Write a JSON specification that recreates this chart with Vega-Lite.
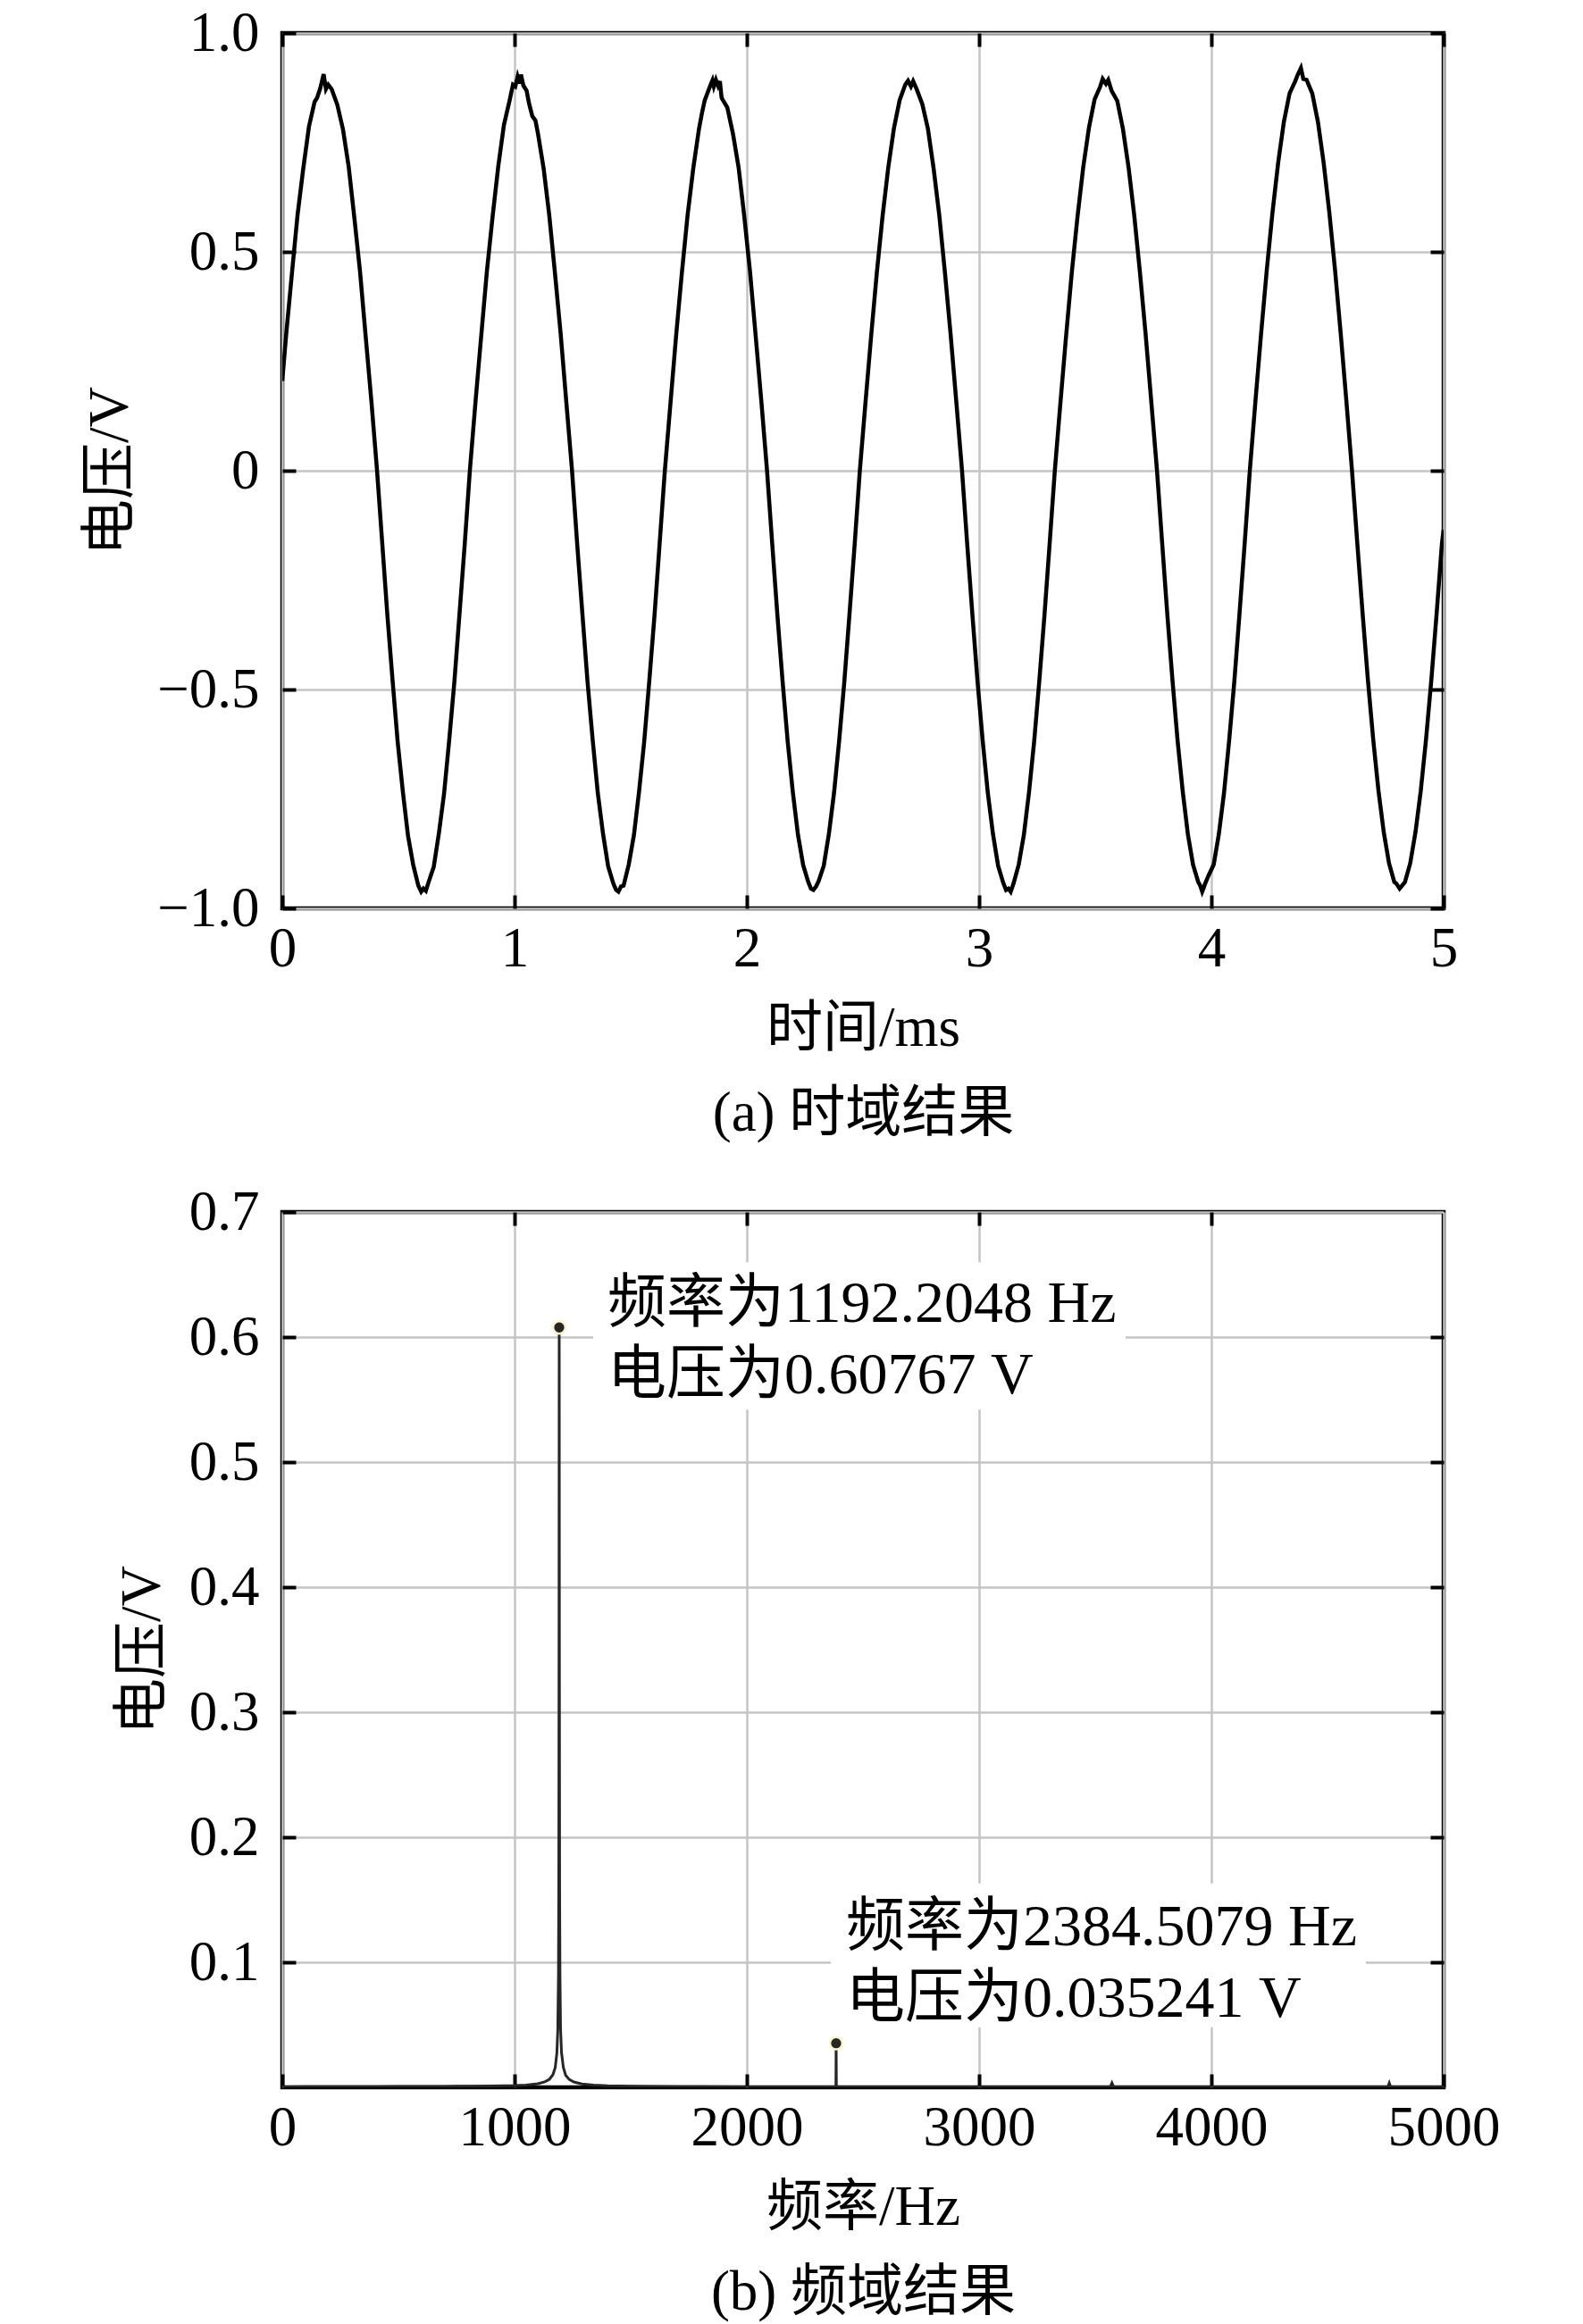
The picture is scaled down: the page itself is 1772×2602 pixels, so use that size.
{
  "$schema": "https://vega.github.io/schema/vega-lite/v6.json",
  "background": "white",
  "padding": {"left": 90, "top": 3, "right": 20, "bottom": 0},
  "bounds": "flush",
  "spacing": 340,
  "config": {
    "view": {"stroke": "black", "strokeWidth": 4.5},
    "font": "Liberation Serif, Noto Sans CJK SC",
    "axis": {
      "labelFont": "Liberation Serif, Noto Sans CJK SC",
      "labelFontSize": 63,
      "labelColor": "black",
      "labelPadding": 41,
      "labelFlush": false,
      "labelOverlap": false,
      "titleFont": "Liberation Serif, Noto Sans CJK SC",
      "titleFontSize": 63,
      "titleFontWeight": "normal",
      "titleColor": "black",
      "tickSize": -15,
      "tickWidth": 4,
      "tickColor": "black",
      "domain": false,
      "gridColor": "#c4c4c4",
      "gridWidth": 2.5,
      "gridOpacity": 1
    },
    "axisX": {"labelPadding": 29}
  },
  "datasets": {
    "wave": [
      {"t": 0, "v": 0.205}, {"t": 0.0169, "v": 0.312}, {"t": 0.0413, "v": 0.45}, {"t": 0.0658, "v": 0.585},
      {"t": 0.0902, "v": 0.69}, {"t": 0.1147, "v": 0.786}, {"t": 0.1391, "v": 0.843}, {"t": 0.15, "v": 0.852},
      {"t": 0.1636, "v": 0.874}, {"t": 0.178, "v": 0.906}, {"t": 0.188, "v": 0.872}, {"t": 0.198, "v": 0.882},
      {"t": 0.2124, "v": 0.872}, {"t": 0.2369, "v": 0.836}, {"t": 0.2613, "v": 0.78}, {"t": 0.2858, "v": 0.695},
      {"t": 0.3102, "v": 0.578}, {"t": 0.3347, "v": 0.455}, {"t": 0.3591, "v": 0.306}, {"t": 0.3836, "v": 0.159},
      {"t": 0.408, "v": 0.0},
      {"t": 0.4302, "v": -0.165}, {"t": 0.4524, "v": -0.33}, {"t": 0.4746, "v": -0.478}, {"t": 0.4968, "v": -0.62},
      {"t": 0.519, "v": -0.733}, {"t": 0.5412, "v": -0.834}, {"t": 0.5634, "v": -0.9}, {"t": 0.5856, "v": -0.948},
      {"t": 0.598, "v": -0.962}, {"t": 0.6077, "v": -0.955}, {"t": 0.618, "v": -0.96}, {"t": 0.6299, "v": -0.94},
      {"t": 0.6521, "v": -0.905}, {"t": 0.6743, "v": -0.828}, {"t": 0.6965, "v": -0.738}, {"t": 0.7187, "v": -0.615},
      {"t": 0.7409, "v": -0.482}, {"t": 0.7631, "v": -0.326}, {"t": 0.7853, "v": -0.169}, {"t": 0.8075, "v": 0.0},
      {"t": 0.8319, "v": 0.158}, {"t": 0.8564, "v": 0.308}, {"t": 0.8808, "v": 0.455}, {"t": 0.9053, "v": 0.58},
      {"t": 0.9297, "v": 0.695}, {"t": 0.9542, "v": 0.79}, {"t": 0.9786, "v": 0.846}, {"t": 0.993, "v": 0.882},
      {"t": 1.0031, "v": 0.878}, {"t": 1.013, "v": 0.9}, {"t": 1.021, "v": 0.885}, {"t": 1.0275, "v": 0.905},
      {"t": 1.038, "v": 0.88}, {"t": 1.0519, "v": 0.868}, {"t": 1.062, "v": 0.84}, {"t": 1.0764, "v": 0.81},
      {"t": 1.09, "v": 0.8}, {"t": 1.1008, "v": 0.77}, {"t": 1.1253, "v": 0.69}, {"t": 1.1497, "v": 0.582},
      {"t": 1.1742, "v": 0.45}, {"t": 1.1986, "v": 0.312}, {"t": 1.2231, "v": 0.155}, {"t": 1.2475, "v": 0.0},
      {"t": 1.2697, "v": -0.168}, {"t": 1.2919, "v": -0.326}, {"t": 1.3141, "v": -0.482}, {"t": 1.3363, "v": -0.615},
      {"t": 1.3585, "v": -0.737}, {"t": 1.3807, "v": -0.829}, {"t": 1.4029, "v": -0.904}, {"t": 1.4251, "v": -0.943},
      {"t": 1.437, "v": -0.958}, {"t": 1.4472, "v": -0.962}, {"t": 1.458, "v": -0.95}, {"t": 1.4694, "v": -0.948},
      {"t": 1.4916, "v": -0.9}, {"t": 1.5138, "v": -0.833}, {"t": 1.536, "v": -0.733}, {"t": 1.5582, "v": -0.619},
      {"t": 1.5804, "v": -0.478}, {"t": 1.6026, "v": -0.33}, {"t": 1.6248, "v": -0.165}, {"t": 1.647, "v": 0.0},
      {"t": 1.6714, "v": 0.155}, {"t": 1.6959, "v": 0.311}, {"t": 1.7203, "v": 0.452}, {"t": 1.7448, "v": 0.583},
      {"t": 1.7692, "v": 0.69}, {"t": 1.7937, "v": 0.78}, {"t": 1.806, "v": 0.815}, {"t": 1.8181, "v": 0.845},
      {"t": 1.8426, "v": 0.88}, {"t": 1.852, "v": 0.892}, {"t": 1.858, "v": 0.878}, {"t": 1.867, "v": 0.893},
      {"t": 1.876, "v": 0.88}, {"t": 1.884, "v": 0.89}, {"t": 1.8914, "v": 0.852}, {"t": 1.9159, "v": 0.83},
      {"t": 1.9403, "v": 0.77}, {"t": 1.9648, "v": 0.692}, {"t": 1.9892, "v": 0.58}, {"t": 2.0137, "v": 0.455},
      {"t": 2.0381, "v": 0.308}, {"t": 2.0626, "v": 0.158}, {"t": 2.087, "v": 0.0},
      {"t": 2.1092, "v": -0.166}, {"t": 2.1314, "v": -0.329}, {"t": 2.1536, "v": -0.479}, {"t": 2.1758, "v": -0.618},
      {"t": 2.198, "v": -0.734}, {"t": 2.2202, "v": -0.832}, {"t": 2.2424, "v": -0.901}, {"t": 2.2646, "v": -0.94},
      {"t": 2.276, "v": -0.955}, {"t": 2.2867, "v": -0.958}, {"t": 2.298, "v": -0.95}, {"t": 2.3089, "v": -0.938},
      {"t": 2.3311, "v": -0.903}, {"t": 2.3533, "v": -0.83}, {"t": 2.3755, "v": -0.736}, {"t": 2.3977, "v": -0.616},
      {"t": 2.4199, "v": -0.481}, {"t": 2.4421, "v": -0.327}, {"t": 2.4643, "v": -0.168}, {"t": 2.4865, "v": 0.0},
      {"t": 2.5109, "v": 0.156}, {"t": 2.5354, "v": 0.309}, {"t": 2.5598, "v": 0.453}, {"t": 2.5843, "v": 0.581},
      {"t": 2.6087, "v": 0.692}, {"t": 2.6332, "v": 0.782}, {"t": 2.6576, "v": 0.846}, {"t": 2.6821, "v": 0.882},
      {"t": 2.694, "v": 0.891}, {"t": 2.7065, "v": 0.878}, {"t": 2.716, "v": 0.89}, {"t": 2.7309, "v": 0.872},
      {"t": 2.7554, "v": 0.838}, {"t": 2.7798, "v": 0.781}, {"t": 2.8043, "v": 0.69}, {"t": 2.8287, "v": 0.583},
      {"t": 2.8532, "v": 0.451}, {"t": 2.8776, "v": 0.31}, {"t": 2.9021, "v": 0.156}, {"t": 2.9265, "v": 0.0},
      {"t": 2.9487, "v": -0.167}, {"t": 2.9709, "v": -0.327}, {"t": 2.9931, "v": -0.481}, {"t": 3.0153, "v": -0.616},
      {"t": 3.0375, "v": -0.736}, {"t": 3.0597, "v": -0.83}, {"t": 3.0819, "v": -0.903}, {"t": 3.1041, "v": -0.942},
      {"t": 3.116, "v": -0.958}, {"t": 3.1262, "v": -0.955}, {"t": 3.136, "v": -0.962}, {"t": 3.1484, "v": -0.943},
      {"t": 3.1706, "v": -0.9}, {"t": 3.1928, "v": -0.832}, {"t": 3.215, "v": -0.734}, {"t": 3.2372, "v": -0.618},
      {"t": 3.2594, "v": -0.479}, {"t": 3.2816, "v": -0.329}, {"t": 3.3038, "v": -0.166}, {"t": 3.326, "v": 0.0},
      {"t": 3.3504, "v": 0.157}, {"t": 3.3749, "v": 0.31}, {"t": 3.3993, "v": 0.454}, {"t": 3.4238, "v": 0.581},
      {"t": 3.4482, "v": 0.693}, {"t": 3.4727, "v": 0.783}, {"t": 3.4971, "v": 0.848}, {"t": 3.5216, "v": 0.878},
      {"t": 3.532, "v": 0.895}, {"t": 3.546, "v": 0.884}, {"t": 3.556, "v": 0.893}, {"t": 3.5704, "v": 0.868},
      {"t": 3.5949, "v": 0.845}, {"t": 3.6193, "v": 0.781}, {"t": 3.6438, "v": 0.692}, {"t": 3.6682, "v": 0.582},
      {"t": 3.6927, "v": 0.452}, {"t": 3.7171, "v": 0.311}, {"t": 3.7416, "v": 0.156}, {"t": 3.766, "v": 0.0},
      {"t": 3.7882, "v": -0.166}, {"t": 3.8104, "v": -0.329}, {"t": 3.8326, "v": -0.479}, {"t": 3.8548, "v": -0.618},
      {"t": 3.877, "v": -0.734}, {"t": 3.8992, "v": -0.832}, {"t": 3.9214, "v": -0.901}, {"t": 3.9436, "v": -0.94},
      {"t": 3.952, "v": -0.948}, {"t": 3.9605, "v": -0.962}, {"t": 3.9657, "v": -0.955}, {"t": 3.972, "v": -0.945},
      {"t": 3.9879, "v": -0.925}, {"t": 4.0101, "v": -0.9}, {"t": 4.0323, "v": -0.83}, {"t": 4.0545, "v": -0.736},
      {"t": 4.0767, "v": -0.616}, {"t": 4.0989, "v": -0.481}, {"t": 4.1211, "v": -0.327}, {"t": 4.1433, "v": -0.167},
      {"t": 4.1655, "v": 0.0},
      {"t": 4.1899, "v": 0.16}, {"t": 4.2144, "v": 0.315}, {"t": 4.2388, "v": 0.46}, {"t": 4.2633, "v": 0.591},
      {"t": 4.2877, "v": 0.704}, {"t": 4.3122, "v": 0.797}, {"t": 4.3366, "v": 0.862}, {"t": 4.3611, "v": 0.89},
      {"t": 4.372, "v": 0.905}, {"t": 4.3855, "v": 0.92}, {"t": 4.396, "v": 0.895}, {"t": 4.4099, "v": 0.893},
      {"t": 4.4344, "v": 0.862}, {"t": 4.4588, "v": 0.797}, {"t": 4.4833, "v": 0.704}, {"t": 4.5077, "v": 0.591},
      {"t": 4.5322, "v": 0.46}, {"t": 4.5566, "v": 0.315}, {"t": 4.5811, "v": 0.16}, {"t": 4.6055, "v": 0.0},
      {"t": 4.6283, "v": -0.166}, {"t": 4.6511, "v": -0.326}, {"t": 4.6738, "v": -0.477}, {"t": 4.6966, "v": -0.613},
      {"t": 4.7194, "v": -0.731}, {"t": 4.7422, "v": -0.826}, {"t": 4.7649, "v": -0.897}, {"t": 4.7877, "v": -0.94},
      {"t": 4.796, "v": -0.943}, {"t": 4.8105, "v": -0.955}, {"t": 4.8333, "v": -0.94}, {"t": 4.8561, "v": -0.897},
      {"t": 4.8788, "v": -0.826}, {"t": 4.9016, "v": -0.731}, {"t": 4.9244, "v": -0.613}, {"t": 4.9472, "v": -0.477},
      {"t": 4.9699, "v": -0.326}, {"t": 4.9927, "v": -0.166}, {"t": 5.0, "v": -0.135}
    ],
    "spectrum": [
      {"f": 0, "v": 0.0004}, {"f": 100, "v": 0.0005}, {"f": 200, "v": 0.0005}, {"f": 300, "v": 0.0006},
      {"f": 400, "v": 0.0006}, {"f": 500, "v": 0.0007}, {"f": 600, "v": 0.0007}, {"f": 700, "v": 0.0008},
      {"f": 800, "v": 0.0009}, {"f": 900, "v": 0.0011}, {"f": 1000, "v": 0.0014}, {"f": 1050, "v": 0.0018},
      {"f": 1100, "v": 0.0029}, {"f": 1130, "v": 0.0044}, {"f": 1150, "v": 0.0064}, {"f": 1165, "v": 0.01},
      {"f": 1175, "v": 0.0158}, {"f": 1182, "v": 0.027}, {"f": 1186, "v": 0.045}, {"f": 1189, "v": 0.09},
      {"f": 1190.5, "v": 0.17}, {"f": 1191.5, "v": 0.36}, {"f": 1192.2048, "v": 0.60767}, {"f": 1193, "v": 0.34},
      {"f": 1194, "v": 0.16}, {"f": 1195.5, "v": 0.09}, {"f": 1198, "v": 0.047}, {"f": 1202, "v": 0.028},
      {"f": 1210, "v": 0.016}, {"f": 1220, "v": 0.0097}, {"f": 1235, "v": 0.0063}, {"f": 1255, "v": 0.0043},
      {"f": 1290, "v": 0.0027}, {"f": 1340, "v": 0.0018}, {"f": 1400, "v": 0.0013}, {"f": 1500, "v": 0.0009},
      {"f": 1600, "v": 0.0007}, {"f": 1800, "v": 0.0005}, {"f": 2000, "v": 0.0004}, {"f": 2200, "v": 0.0004},
      {"f": 2380, "v": 0.0005}, {"f": 2383.5, "v": 0.0015}, {"f": 2384.5079, "v": 0.035241}, {"f": 2385.5, "v": 0.0015},
      {"f": 2390, "v": 0.0005}, {"f": 2600, "v": 0.0004}, {"f": 2800, "v": 0.0003}, {"f": 3000, "v": 0.0003},
      {"f": 3300, "v": 0.0003}, {"f": 3565, "v": 0.0004}, {"f": 3572, "v": 0.0035}, {"f": 3579, "v": 0.0004},
      {"f": 3800, "v": 0.0003}, {"f": 4000, "v": 0.0003}, {"f": 4300, "v": 0.0003}, {"f": 4600, "v": 0.0003},
      {"f": 4760, "v": 0.0004}, {"f": 4766, "v": 0.0035}, {"f": 4772, "v": 0.0004}, {"f": 5000, "v": 0.0003}
    ],
    "peaks": [
      {"id": 1, "f": 1192.2048, "v": 0.60767, "label": "频率为1192.2048 Hz\n电压为0.60767 V"},
      {"id": 2, "f": 2384.5079, "v": 0.035241, "label": "频率为2384.5079 Hz\n电压为0.035241 V"}
    ]
  },
  "vconcat": [
    {
      "width": 1300,
      "height": 980,
      "data": {"name": "wave"},
      "resolve": {"axis": {"x": "independent", "y": "independent"}},
      "layer": [
        {
          "mark": {"type": "line", "color": "black", "strokeWidth": 4.5, "clip": true},
          "encoding": {
            "x": {
              "field": "t", "type": "quantitative",
              "scale": {"domain": [0, 5], "nice": false, "zero": false},
              "axis": {"title": ["时间/ms", "(a) 时域结果"], "values": [0, 1, 2, 3, 4, 5], "format": "d",
                       "titlePadding": 26, "titleLineHeight": 95}
            },
            "y": {
              "field": "v", "type": "quantitative",
              "scale": {"domain": [-1, 1], "nice": false},
              "axis": {"title": "电压/V", "values": [-1, -0.5, 0, 0.5, 1],
                       "labelExpr": "datum.value == 0 ? '0' : format(datum.value, '.1f')", "titlePadding": 20}
            }
          }
        },
        {
          "mark": {"type": "point", "opacity": 0},
          "encoding": {
            "x": {"field": "t", "type": "quantitative",
                  "axis": {"orient": "top", "labels": false, "grid": false, "title": null, "values": [0, 1, 2, 3, 4, 5]}},
            "y": {"field": "v", "type": "quantitative",
                  "axis": {"orient": "right", "labels": false, "grid": false, "title": null, "values": [-1, -0.5, 0, 0.5, 1]}}
          }
        }
      ]
    },
    {
      "width": 1300,
      "height": 980,
      "resolve": {"axis": {"x": "independent", "y": "independent"}},
      "layer": [
        {
          "data": {"name": "spectrum"},
          "mark": {"type": "line", "color": "#262626", "strokeWidth": 3, "clip": true},
          "encoding": {
            "x": {
              "field": "f", "type": "quantitative",
              "scale": {"domain": [0, 5000], "nice": false},
              "axis": {"title": ["频率/Hz", "(b) 频域结果"], "values": [0, 1000, 2000, 3000, 4000, 5000], "format": "d",
                       "titlePadding": 26, "titleLineHeight": 95}
            },
            "y": {
              "field": "v", "type": "quantitative",
              "scale": {"domain": [0, 0.7], "nice": false},
              "axis": {"title": "电压/V", "values": [0.1, 0.2, 0.3, 0.4, 0.5, 0.6, 0.7], "format": ".1f", "titlePadding": 20}
            }
          }
        },
        {
          "data": {"name": "spectrum"},
          "mark": {"type": "point", "opacity": 0},
          "encoding": {
            "x": {"field": "f", "type": "quantitative",
                  "axis": {"orient": "top", "labels": false, "grid": false, "title": null, "values": [1000, 2000, 3000, 4000]}},
            "y": {"field": "v", "type": "quantitative",
                  "axis": {"orient": "right", "labels": false, "grid": false, "title": null, "values": [0.1, 0.2, 0.3, 0.4, 0.5, 0.6]}}
          }
        },
        {
          "data": {"name": "peaks"},
          "transform": [{"filter": "datum.id == 1"}],
          "mark": {"type": "rect", "color": "white", "xOffset": 38, "x2Offset": 634, "yOffset": -73, "y2Offset": 92},
          "encoding": {
            "x": {"field": "f", "type": "quantitative", "axis": null}, "x2": {"field": "f"},
            "y": {"field": "v", "type": "quantitative", "axis": null}, "y2": {"field": "v"}
          }
        },
        {
          "data": {"name": "peaks"},
          "transform": [{"filter": "datum.id == 2"}],
          "mark": {"type": "rect", "color": "white", "xOffset": -6, "x2Offset": 593, "yOffset": -179, "y2Offset": -18},
          "encoding": {
            "x": {"field": "f", "type": "quantitative", "axis": null}, "x2": {"field": "f"},
            "y": {"field": "v", "type": "quantitative", "axis": null}, "y2": {"field": "v"}
          }
        },
        {
          "data": {"name": "peaks"},
          "mark": {"type": "point", "filled": true, "size": 190, "color": "#262626", "stroke": "#fbf6c4", "strokeWidth": 2.5, "opacity": 1},
          "encoding": {
            "x": {"field": "f", "type": "quantitative", "axis": null},
            "y": {"field": "v", "type": "quantitative", "axis": null}
          }
        },
        {
          "data": {"name": "peaks"},
          "transform": [{"filter": "datum.id == 1"}],
          "mark": {"type": "text", "align": "left", "baseline": "middle", "dx": 54, "dy": -26, "fontSize": 66,
                   "lineBreak": "\n", "lineHeight": 80, "color": "black", "font": "Liberation Serif, Noto Sans CJK SC"},
          "encoding": {
            "x": {"field": "f", "type": "quantitative", "axis": null},
            "y": {"field": "v", "type": "quantitative", "axis": null},
            "text": {"field": "label"}
          }
        },
        {
          "data": {"name": "peaks"},
          "transform": [{"filter": "datum.id == 2"}],
          "mark": {"type": "text", "align": "left", "baseline": "middle", "dx": 11, "dy": -130, "fontSize": 66,
                   "lineBreak": "\n", "lineHeight": 80, "color": "black", "font": "Liberation Serif, Noto Sans CJK SC"},
          "encoding": {
            "x": {"field": "f", "type": "quantitative", "axis": null},
            "y": {"field": "v", "type": "quantitative", "axis": null},
            "text": {"field": "label"}
          }
        }
      ]
    }
  ]
}
